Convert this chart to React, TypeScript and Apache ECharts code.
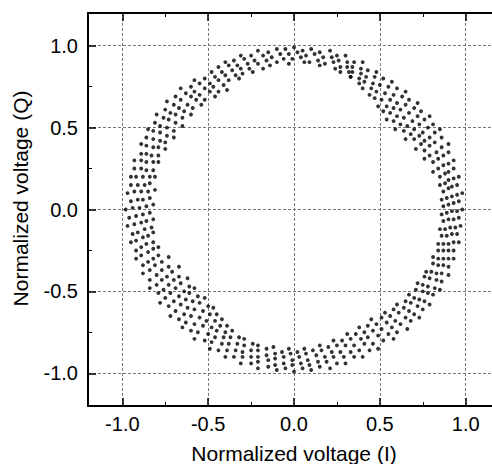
import React, { useEffect, useRef } from "react";
import * as echarts from "echarts";

const xTitle = "Normalized voltage (I)";
const yTitle = "Normalized voltage (Q)";
const axisMin = -1.2;
const axisMax = 1.2;

// [I, Q] points, quadrant by quadrant
const quadrant1: [number, number][] = [
  [.98,0],[.95,-.01],[.92,-.01],[.89,-.02],[.86,-.03],
  [.96,.05],[.93,.04],[.90,.03],[.87,.02],
  [.98,.10],[.95,.09],[.92,.08],[.89,.07],[.86,.06],
  [.95,.15],[.92,.14],[.90,.13],[.87,.11],
  [.96,.20],[.93,.19],[.90,.18],[.88,.16],[.85,.15],
  [.93,.25],[.90,.23],[.88,.22],[.85,.20],
  [.93,.30],[.90,.28],[.87,.27],[.84,.25],[.81,.23],
  [.90,.35],[.87,.33],[.84,.31],[.81,.29],
  [.90,.40],[.86,.38],[.83,.35],[.79,.33],[.76,.31],
  [.86,.44],[.82,.41],[.79,.39],[.76,.36],
  [.85,.49],[.82,.47],[.79,.44],[.76,.42],[.74,.40],[.71,.37],
  [.81,.52],[.78,.50],[.75,.47],[.73,.45],[.70,.43],
  [.79,.57],[.76,.55],[.73,.52],[.70,.49],[.68,.46],[.65,.43],
  [.74,.60],[.72,.57],[.69,.54],[.66,.51],[.64,.48],
  [.72,.65],[.70,.62],[.67,.59],[.64,.56],[.62,.52],[.59,.49],
  [.67,.67],[.65,.64],[.62,.61],[.60,.57],[.58,.54],
  [.65,.72],[.63,.69],[.60,.65],[.58,.62],[.56,.59],[.54,.55],
  [.60,.74],[.58,.70],[.56,.67],[.54,.63],[.52,.60],
  [.57,.78],[.55,.75],[.53,.71],[.51,.67],[.49,.63],
  [.52,.80],[.50,.76],[.48,.72],[.47,.68],
  [.48,.84],[.47,.81],[.46,.77],[.45,.74],[.44,.70],
  [.43,.85],[.42,.81],[.41,.78],[.40,.74],
  [.40,.90],[.39,.86],[.39,.83],[.38,.80],[.38,.77],
  [.35,.90],[.34,.87],[.34,.84],[.33,.81],
  [.30,.94],[.31,.90],[.31,.87],[.32,.84],[.33,.81],
  [.25,.94],[.26,.91],[.27,.87],[.27,.84],
  [.21,.97],[.22,.93],[.23,.90],[.24,.86],
  [.15,.96],[.17,.93],[.18,.89],
  [.10,.98],[.12,.95],[.14,.91],[.15,.88],
  [.05,.97],[.07,.94],[.09,.90],
];

const quadrant2: [number, number][] = [
  [0,.99],[.02,.96],[.04,.93],[.06,.90],
  [-.05,.98],[-.03,.95],[-.01,.92],
  [-.10,.98],[-.08,.95],[-.06,.92],[-.03,.89],
  [-.15,.96],[-.13,.93],[-.10,.90],
  [-.21,.97],[-.18,.94],[-.16,.91],[-.14,.88],
  [-.25,.94],[-.23,.91],[-.21,.89],[-.18,.86],
  [-.31,.94],[-.29,.92],[-.27,.89],[-.26,.86],[-.24,.84],
  [-.35,.91],[-.33,.88],[-.31,.86],[-.30,.83],
  [-.40,.90],[-.38,.88],[-.36,.85],[-.34,.82],[-.32,.80],
  [-.44,.87],[-.42,.84],[-.40,.82],[-.38,.79],
  [-.48,.84],[-.46,.81],[-.44,.79],[-.41,.76],[-.39,.73],
  [-.52,.80],[-.49,.77],[-.47,.75],[-.44,.72],
  [-.58,.79],[-.55,.77],[-.52,.74],[-.49,.72],[-.46,.69],
  [-.60,.75],[-.58,.72],[-.55,.70],[-.52,.67],
  [-.66,.74],[-.63,.71],[-.60,.69],[-.57,.67],[-.54,.64],
  [-.69,.69],[-.66,.67],[-.62,.64],[-.59,.62],
  [-.74,.66],[-.70,.64],[-.67,.62],[-.64,.60],[-.60,.58],
  [-.75,.61],[-.72,.59],[-.69,.58],[-.65,.56],
  [-.80,.58],[-.76,.56],[-.73,.55],[-.69,.53],[-.65,.51],
  [-.81,.53],[-.78,.51],[-.74,.50],[-.70,.48],
  [-.85,.49],[-.82,.48],[-.78,.47],[-.74,.45],[-.70,.44],
  [-.86,.44],[-.82,.43],[-.78,.42],[-.75,.41],
  [-.89,.40],[-.86,.39],[-.82,.38],[-.79,.38],[-.75,.37],
  [-.89,.34],[-.86,.34],[-.83,.33],[-.79,.33],
  [-.93,.30],[-.89,.30],[-.86,.29],[-.82,.29],[-.79,.29],
  [-.93,.25],[-.89,.25],[-.86,.24],[-.82,.24],
  [-.95,.20],[-.92,.20],[-.88,.20],[-.84,.20],[-.81,.20],
  [-.95,.15],[-.91,.15],[-.87,.15],[-.84,.16],
  [-.97,.10],[-.93,.11],[-.89,.11],[-.85,.11],[-.81,.12],
  [-.95,.05],[-.91,.06],[-.88,.06],[-.84,.07],
];

const quadrant3: [number, number][] = [
  [-.98,0],[-.94,.01],[-.90,.01],[-.86,.02],[-.82,.03],
  [-.96,-.05],[-.92,-.04],[-.88,-.03],[-.84,-.02],
  [-.97,-.10],[-.93,-.09],[-.89,-.08],[-.86,-.07],[-.82,-.06],
  [-.94,-.15],[-.91,-.14],[-.87,-.12],[-.83,-.11],
  [-.95,-.20],[-.92,-.19],[-.88,-.17],[-.85,-.16],[-.82,-.14],
  [-.92,-.25],[-.89,-.23],[-.86,-.21],[-.82,-.20],
  [-.92,-.30],[-.89,-.28],[-.85,-.26],[-.82,-.24],[-.79,-.23],
  [-.88,-.34],[-.85,-.32],[-.82,-.30],[-.79,-.28],
  [-.88,-.39],[-.84,-.37],[-.81,-.34],[-.77,-.32],[-.73,-.29],
  [-.84,-.43],[-.80,-.40],[-.77,-.37],[-.73,-.35],
  [-.84,-.48],[-.80,-.46],[-.77,-.43],[-.74,-.41],[-.71,-.38],[-.67,-.35],
  [-.79,-.51],[-.76,-.49],[-.73,-.46],[-.70,-.43],[-.67,-.41],
  [-.78,-.57],[-.75,-.54],[-.72,-.51],[-.69,-.48],[-.66,-.45],[-.62,-.42],
  [-.73,-.59],[-.70,-.56],[-.67,-.53],[-.64,-.50],[-.61,-.47],
  [-.72,-.65],[-.69,-.62],[-.66,-.58],[-.63,-.55],[-.61,-.51],[-.58,-.48],
  [-.67,-.67],[-.64,-.64],[-.62,-.60],[-.59,-.56],[-.56,-.53],
  [-.65,-.72],[-.63,-.69],[-.60,-.65],[-.58,-.61],[-.55,-.57],[-.52,-.54],
  [-.60,-.74],[-.58,-.70],[-.55,-.66],[-.53,-.62],[-.50,-.59],
  [-.58,-.79],[-.56,-.75],[-.53,-.71],[-.51,-.68],[-.49,-.64],[-.47,-.60],
  [-.52,-.80],[-.50,-.76],[-.48,-.72],[-.46,-.68],[-.45,-.64],
  [-.49,-.85],[-.48,-.81],[-.46,-.78],[-.45,-.74],[-.43,-.71],[-.42,-.67],
  [-.44,-.86],[-.42,-.82],[-.41,-.78],[-.40,-.75],[-.39,-.71],
  [-.40,-.90],[-.39,-.86],[-.38,-.82],[-.37,-.78],[-.36,-.74],
  [-.35,-.90],[-.34,-.86],[-.33,-.82],[-.32,-.78],
  [-.31,-.94],[-.30,-.90],[-.30,-.87],[-.29,-.83],[-.29,-.79],
  [-.25,-.94],[-.25,-.90],[-.25,-.86],[-.24,-.82],
  [-.21,-.97],[-.21,-.93],[-.21,-.90],[-.21,-.86],[-.21,-.83],
  [-.15,-.96],[-.15,-.92],[-.16,-.89],[-.16,-.85],
  [-.10,-.98],[-.11,-.95],[-.11,-.91],[-.11,-.88],[-.12,-.84],
  [-.05,-.97],[-.06,-.94],[-.06,-.90],[-.07,-.87],
];

const quadrant4: [number, number][] = [
  [0,-.99],[-.01,-.95],[-.01,-.92],[-.02,-.88],[-.03,-.85],
  [.05,-.97],[.04,-.94],[.03,-.90],[.02,-.87],
  [.10,-.98],[.09,-.95],[.08,-.92],[.07,-.88],[.06,-.85],
  [.15,-.96],[.14,-.93],[.13,-.89],[.11,-.86],
  [.21,-.97],[.19,-.93],[.18,-.90],[.16,-.86],[.15,-.83],
  [.25,-.94],[.23,-.90],[.22,-.87],[.20,-.84],
  [.30,-.94],[.29,-.90],[.27,-.87],[.25,-.83],[.23,-.80],
  [.35,-.90],[.33,-.87],[.30,-.83],[.28,-.80],
  [.40,-.90],[.38,-.86],[.35,-.83],[.33,-.79],[.31,-.76],
  [.44,-.86],[.41,-.82],[.39,-.79],[.36,-.76],
  [.49,-.85],[.46,-.82],[.43,-.78],[.41,-.75],[.38,-.72],
  [.52,-.80],[.49,-.77],[.46,-.74],[.43,-.71],
  [.58,-.79],[.55,-.76],[.51,-.73],[.48,-.70],[.45,-.67],
  [.60,-.75],[.57,-.72],[.54,-.69],[.51,-.66],
  [.66,-.73],[.62,-.70],[.59,-.68],[.56,-.65],[.53,-.63],
  [.68,-.68],[.65,-.66],[.61,-.63],[.58,-.61],
  [.73,-.66],[.70,-.64],[.67,-.62],[.64,-.60],[.60,-.58],
  [.75,-.61],[.72,-.59],[.68,-.57],[.65,-.56],
  [.79,-.58],[.76,-.56],[.73,-.55],[.70,-.54],[.67,-.52],
  [.81,-.52],[.78,-.51],[.75,-.50],[.71,-.49],
  [.85,-.49],[.82,-.48],[.78,-.47],[.75,-.46],[.72,-.45],
  [.86,-.44],[.83,-.43],[.79,-.42],[.76,-.41],
  [.90,-.40],[.86,-.39],[.83,-.39],[.80,-.38],[.77,-.38],
  [.90,-.35],[.87,-.34],[.84,-.34],[.81,-.33],
  [.93,-.30],[.90,-.30],[.87,-.30],[.84,-.30],[.81,-.29],
  [.93,-.25],[.90,-.25],[.87,-.25],[.84,-.25],
  [.96,-.20],[.93,-.20],[.90,-.21],[.87,-.21],[.84,-.21],
  [.95,-.15],[.92,-.15],[.89,-.16],[.86,-.16],
  [.97,-.10],[.94,-.11],[.91,-.11],[.88,-.12],[.85,-.12],
  [.96,-.05],[.93,-.06],[.90,-.06],[.87,-.07],
];

const FONT = "'Liberation Sans', Arial, Helvetica, sans-serif";

export default function App() {
  const ref = useRef<HTMLDivElement>(null);
  useEffect(() => {
    if (!ref.current) return;
    const chart = echarts.init(ref.current, null, { renderer: "svg" });
    const points = [...quadrant1, ...quadrant2, ...quadrant3, ...quadrant4];
    const fmt = (v: number) => v.toFixed(1);
    const axisLine = { show: true, onZero: false, lineStyle: { color: "#000", width: 2 } };
    const axisTick = { show: true, inside: true, length: 8, lineStyle: { color: "#000", width: 1.5 } };
    const minorTick = { show: true, splitNumber: 2, length: 4, lineStyle: { color: "#000", width: 1 } };
    const splitLine = {
      show: true,
      showMinLine: false,
      showMaxLine: false,
      lineStyle: { color: "#777", type: [3, 2], width: 1 },
    };
    const tickFont = { fontFamily: FONT, fontSize: 20, color: "#000" };
    const titleFont = { fontFamily: FONT, fontSize: 21, color: "#000" };
    const base = { type: "value", min: axisMin, max: axisMax, splitNumber: 5 };
    chart.setOption({
      animation: false,
      backgroundColor: "#fff",
      grid: {
        left: 88,
        top: 13,
        width: 412,
        height: 393,
        containLabel: false,
        outerBoundsMode: "none",
      },
      xAxis: [
        {
          ...base,
          position: "bottom",
          name: xTitle,
          nameLocation: "middle",
          nameGap: 37,
          nameTextStyle: titleFont,
          axisLine,
          axisTick,
          minorTick,
          axisLabel: { show: true, margin: 8, formatter: fmt, showMinLabel: false, showMaxLabel: false, ...tickFont },
          splitLine,
        },
        {
          ...base,
          position: "top",
          axisLine,
          axisTick,
          minorTick,
          axisLabel: { show: false },
          splitLine: { show: false },
        },
      ],
      yAxis: [
        {
          ...base,
          position: "left",
          name: yTitle,
          nameLocation: "middle",
          nameGap: 57,
          nameRotate: 90,
          nameTextStyle: { ...titleFont, padding: [0, 0, 0, 22] },
          axisLine,
          axisTick,
          minorTick,
          axisLabel: { show: true, margin: 10, formatter: fmt, showMinLabel: false, showMaxLabel: false, ...tickFont },
          splitLine,
        },
      ],
      series: [
        {
          type: "scatter",
          symbol: "circle",
          symbolSize: 3.9,
          itemStyle: { color: "#000" },
          data: points,
          xAxisIndex: 0,
          yAxisIndex: 0,
        },
      ],
    });
    return () => chart.dispose();
  }, []);
  return (
    <div
      ref={ref}
      style={{ position: "fixed", left: 0, top: 0, width: 492, height: 464, background: "#fff" }}
    />
  );
}
